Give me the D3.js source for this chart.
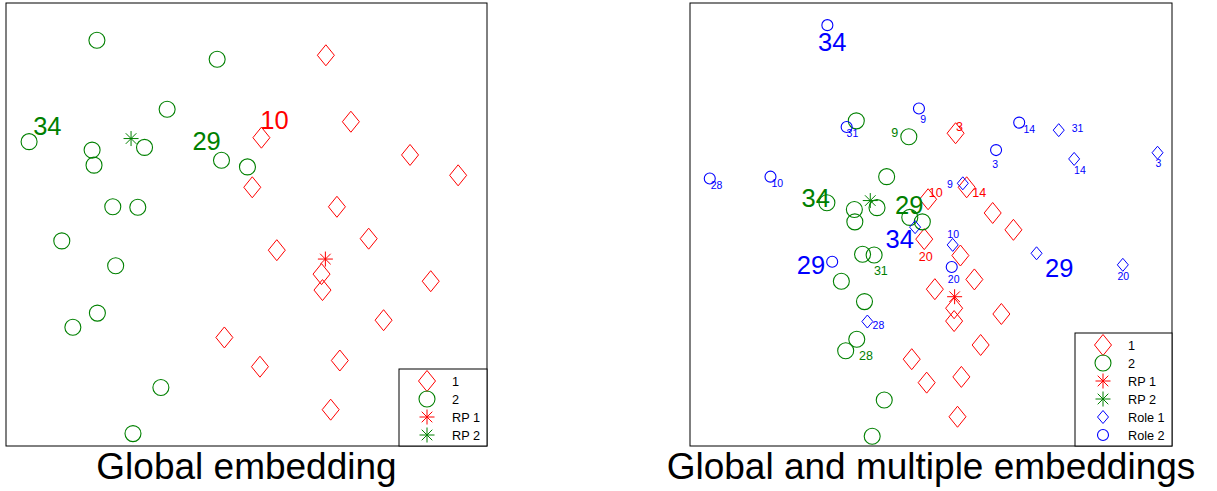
<!DOCTYPE html>
<html>
<head>
<meta charset="utf-8">
<script src="https://cdn.jsdelivr.net/npm/d3@7"></script>
<style>
  html, body { margin: 0; padding: 0; background: #fff; }
  svg { display: block; font-family: "Liberation Sans", Arial, Helvetica, sans-serif; }
</style>
</head>
<body>
<svg id="chart" width="1217" height="491"></svg>
<script>
// Embedding coordinates, both axes on a 0..100 scale (y grows upwards)

// ---- Global embedding ----
const leftClass1 = [[66.5, 88.2], [71.7, 73.2], [53.1, 69.6], [84.0, 65.7], [94.0, 61.1], [51.2, 58.4],
  [68.8, 54.0], [75.4, 46.8], [56.3, 44.2], [65.6, 38.8], [65.8, 35.2], [88.3, 37.2], [78.5, 28.4],
  [45.4, 24.5], [52.8, 17.9], [69.4, 19.3], [67.5, 8.2]];
const leftClass2 = [[18.9, 91.6], [43.9, 87.3], [33.5, 76.0], [4.8, 68.7], [17.9, 66.8], [18.3, 63.4],
  [28.8, 67.4], [44.8, 64.5], [50.2, 63.0], [22.2, 54.0], [27.4, 53.9], [11.6, 46.3], [22.8, 40.7],
  [19.0, 30.0], [13.9, 26.8], [32.2, 13.2], [26.4, 2.8]];
const leftRP1 = [[66.4, 42.2]];
const leftRP2 = [[26.0, 69.4]];
const leftBigLabels1 = [['10', 55.8, 71.5]];
const leftBigLabels2 = [['34', 8.6, 70.2], ['29', 41.7, 66.8]];

// ---- Global and multiple embeddings ----
const rightClass1 = [[55.1, 70.6], [57.4, 58.4], [49.4, 55.7], [62.8, 52.6], [67.1, 48.8], [48.6, 46.7],
  [56.1, 43.0], [59.0, 37.6], [50.8, 35.4], [54.8, 31.1], [54.8, 28.2], [64.6, 29.8], [60.3, 22.8],
  [46.0, 19.6], [49.1, 14.3], [56.3, 15.6], [55.5, 6.6]];
const rightClass2 = [[34.5, 73.4], [45.4, 69.8], [40.8, 60.8], [28.4, 54.9], [38.8, 53.8], [34.1, 53.4],
  [34.2, 50.6], [45.6, 51.6], [48.2, 50.6], [35.8, 43.3], [38.2, 43.1], [31.4, 37.2], [36.2, 32.6],
  [34.6, 24.1], [32.3, 21.5], [40.3, 10.4], [37.8, 2.2]];
const rightRP1 = [[54.9, 33.7]];
const rightRP2 = [[37.4, 55.4]];
const rightRole1 = [[46.7, 49.4], [56.6, 59.3], [76.5, 71.3], [79.7, 64.8], [97.0, 66.2], [54.5, 45.4],
  [71.9, 43.5], [89.8, 40.9], [36.8, 28.1]];
const rightRole2 = [[28.5, 95.0], [47.5, 76.2], [32.5, 72.0], [4.1, 60.4], [16.7, 60.8], [68.3, 73.0],
  [63.5, 66.8], [54.3, 40.4], [29.5, 41.6]];
const rightBigLabels2 = [['34', 26.1, 54.0], ['29', 45.5, 52.4]];
const rightBigLabelsRole = [['34', 29.5, 89.2], ['34', 43.5, 44.6], ['29', 25.1, 38.8], ['29', 76.6, 38.1]];
const rightLabels1 = [['3', 55.9, 71.1], ['14', 60.0, 56.3], ['10', 51.0, 56.2], ['20', 48.9, 41.8]];
const rightLabels2 = [['9', 42.5, 69.8], ['31', 39.6, 38.6], ['28', 36.5, 19.5]];
const rightLabelsRole = [['9', 48.4, 73.0], ['31', 33.7, 69.8], ['28', 5.5, 58.0], ['10', 18.1, 58.5],
  ['14', 70.4, 70.7], ['31', 80.4, 70.9], ['3', 63.3, 62.8], ['14', 80.9, 61.3], ['3', 97.2, 63.0],
  ['9', 53.9, 58.3], ['10', 54.6, 47.0], ['20', 54.7, 36.8], ['20', 89.9, 37.4], ['28', 39.1, 26.5]];

const leftLegend = ['1', '2', 'RP 1', 'RP 2'];
const rightLegend = ['1', '2', 'RP 1', 'RP 2', 'Role 1', 'Role 2'];
const titles = ['Global embedding', 'Global and multiple embeddings'];

// marker style per series
const RED = '#ff0000', GREEN = '#008000', BLUE = '#0000ff';
const seriesStyle = {
  '1': { shape: 'diamond', color: RED },
  '2': { shape: 'circle', color: GREEN },
  'RP 1': { shape: 'star', color: RED },
  'RP 2': { shape: 'star', color: GREEN },
  'Role 1': { shape: 'smallDiamond', color: BLUE },
  'Role 2': { shape: 'smallCircle', color: BLUE }
};

const svg = d3.select('#chart');

function drawMarker(g, key, cx, cy) {
  const s = seriesStyle[key];
  if (s.shape === 'diamond' || s.shape === 'smallDiamond') {
    const w = s.shape === 'diamond' ? 8.5 : 5.5;
    const h = s.shape === 'diamond' ? 10.5 : 6.5;
    g.append('path')
      .attr('d', `M${cx},${cy - h}L${cx + w},${cy}L${cx},${cy + h}L${cx - w},${cy}Z`)
      .attr('fill', 'none').attr('stroke', s.color).attr('stroke-width', 1);
  } else if (s.shape === 'circle' || s.shape === 'smallCircle') {
    g.append('circle')
      .attr('cx', cx).attr('cy', cy)
      .attr('r', s.shape === 'circle' ? 8 : 5.5)
      .attr('fill', 'none').attr('stroke', s.color).attr('stroke-width', 1.1);
  } else {
    // asterisk: four strokes through the centre
    const r = 7.5, d = r * Math.SQRT1_2;
    [[-r, 0, r, 0], [0, -r, 0, r], [-d, -d, d, d], [-d, d, d, -d]].forEach(l => {
      g.append('line')
        .attr('x1', cx + l[0]).attr('y1', cy + l[1])
        .attr('x2', cx + l[2]).attr('y2', cy + l[3])
        .attr('stroke', s.color).attr('stroke-width', 1);
    });
  }
}

function drawPanel(box, series, labelSets, legendKeys, title) {
  const g = svg.append('g');
  const x = d3.scaleLinear().domain([0, 100]).range([box.x0, box.x1]);
  const y = d3.scaleLinear().domain([0, 100]).range([box.y1, box.y0]);

  // frame
  g.append('rect')
    .attr('x', box.x0).attr('y', box.y0)
    .attr('width', box.x1 - box.x0).attr('height', box.y1 - box.y0)
    .attr('fill', 'none').attr('stroke', '#000').attr('stroke-width', 1);

  // points
  series.forEach(([key, pts]) => {
    pts.forEach(p => drawMarker(g, key, x(p[0]), y(p[1])));
  });

  // node labels
  labelSets.forEach(([pts, color, size]) => {
    g.selectAll(null)
      .data(pts)
      .enter()
      .append('text')
      .attr('x', d => x(d[1]))
      .attr('y', d => y(d[2]))
      .attr('text-anchor', 'middle')
      .style('font-size', size + 'px')
      .style('fill', color)
      .text(d => d[0]);
  });

  // legend, bottom-right corner
  const rowH = 18;
  const legH = 12 + (legendKeys.length - 1) * rowH + 11;
  const legW = legendKeys.length > 4 ? 97 : 88;
  const lx = box.x1 - legW, ly = box.y1 - legH;
  g.append('rect')
    .attr('x', lx).attr('y', ly).attr('width', legW).attr('height', legH)
    .attr('fill', '#fff').attr('stroke', '#000').attr('stroke-width', 1);
  legendKeys.forEach((k, i) => {
    const cy = ly + 12 + i * rowH;
    drawMarker(g, k, lx + 28, cy);
    g.append('text')
      .attr('x', lx + 53).attr('y', cy + 4.5)
      .style('font-size', '12.7px')
      .style('fill', '#000')
      .text(k);
  });

  // caption
  g.append('text')
    .attr('x', (box.x0 + box.x1) / 2)
    .attr('y', 478.5)
    .attr('text-anchor', 'middle')
    .style('font-size', '37px')
    .style('fill', '#000')
    .text(title);
}

drawPanel(
  { x0: 6, x1: 487, y0: 3, y1: 446 },
  [['1', leftClass1], ['2', leftClass2], ['RP 1', leftRP1], ['RP 2', leftRP2]],
  [[leftBigLabels1, RED, 25.5], [leftBigLabels2, GREEN, 25.5]],
  leftLegend, titles[0]
);

drawPanel(
  { x0: 690, x1: 1172, y0: 3, y1: 446 },
  [['1', rightClass1], ['2', rightClass2], ['RP 1', rightRP1], ['RP 2', rightRP2],
   ['Role 1', rightRole1], ['Role 2', rightRole2]],
  [[rightLabels1, RED, 12.5], [rightLabels2, GREEN, 12.5], [rightLabelsRole, BLUE, 10.5],
   [rightBigLabels2, GREEN, 25.5], [rightBigLabelsRole, BLUE, 25.5]],
  rightLegend, titles[1]
);
</script>
</body>
</html>
